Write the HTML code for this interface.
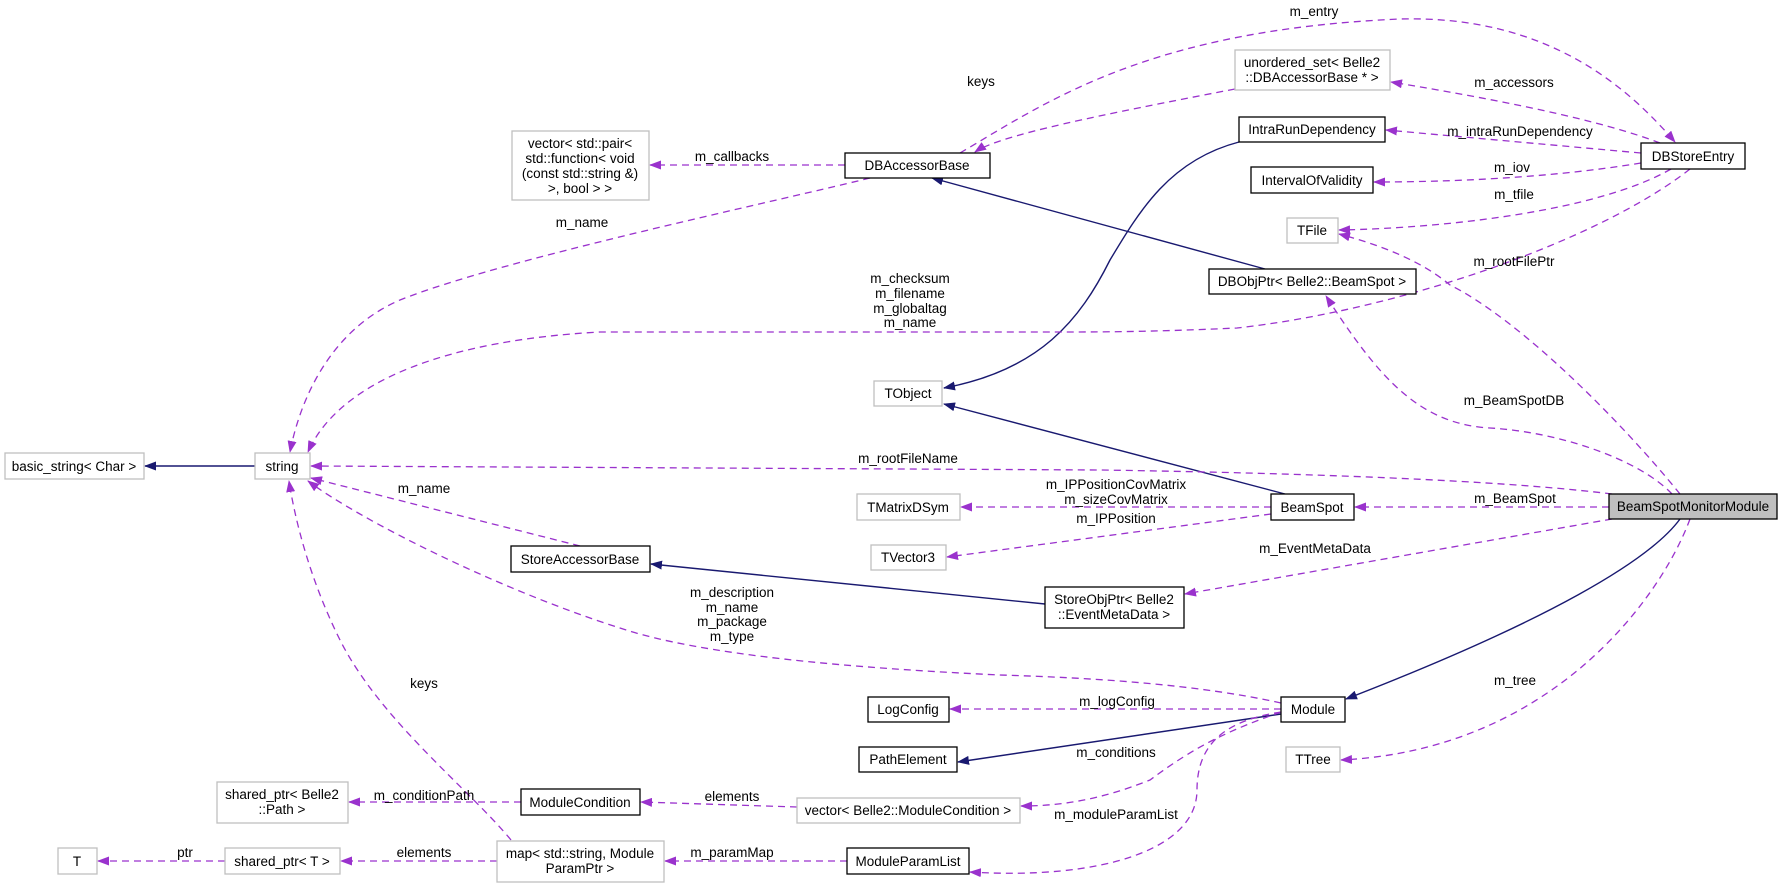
<!DOCTYPE html>
<html><head><meta charset="utf-8"><style>
html,body{margin:0;padding:0;background:#fff;}
svg text{font-family:"Liberation Sans",sans-serif;font-size:13.5px;fill:#000;}
</style></head><body>
<svg width="1783" height="887" viewBox="0 0 1783 887" xmlns="http://www.w3.org/2000/svg">
<defs>
<marker id="p" markerWidth="12" markerHeight="9" refX="11" refY="4.5" orient="auto" markerUnits="userSpaceOnUse"><path d="M0,0 L12,4.5 L0,9 z" fill="#9a32cd"/></marker>
<marker id="n" markerWidth="12" markerHeight="9" refX="11" refY="4.5" orient="auto" markerUnits="userSpaceOnUse"><path d="M0,0 L12,4.5 L0,9 z" fill="#191970"/></marker>
</defs>
<g fill="none" stroke="#191970" stroke-width="1.4" marker-end="url(#n)">
<path d="M255,466 L145,466"/>
<path d="M1265,269 L932,178"/>
<path d="M1239,142 C1170,160 1140,210 1110,260 C1080,320 1040,370 944,388"/>
<path d="M1285,494 L944,404"/>
<path d="M1045,604 L651,564"/>
<path d="M1281,714 L958,762"/>
<path d="M1680,519 C1650,560 1550,620 1346,699"/>
</g>
<g fill="none" stroke="#9a32cd" stroke-width="1.3" stroke-dasharray="7,5" marker-end="url(#p)">
<path d="M845,165 L650,165"/>
<path d="M870,178 C760,205 500,260 400,300 C330,330 300,400 290,452"/>
<path d="M1690,169 C1600,240 1400,310 1237,328 C1150,332 1100,332 1050,332 L600,332 C450,340 340,380 308,452"/>
<path d="M1612,494 C1500,480 1300,473 1100,470 L311,466"/>
<path d="M960,153 C1050,100 1150,30 1400,19 C1550,15 1630,90 1675,142"/>
<path d="M1660,143 C1600,120 1500,100 1391,82"/>
<path d="M1235,89 C1100,115 1000,135 975,152"/>
<path d="M1641,153 L1386,130"/>
<path d="M1641,163 C1550,178 1450,182 1374,182"/>
<path d="M1671,169 C1600,210 1450,228 1339,230"/>
<path d="M1680,494 C1620,420 1520,320 1450,285 C1420,260 1380,245 1339,234"/>
<path d="M1672,494 C1640,460 1560,432 1490,428 C1420,424 1380,380 1326,296"/>
<path d="M1609,507 L1355,507"/>
<path d="M1271,507 L961,507"/>
<path d="M1271,514 L947,557"/>
<path d="M1612,519 L1185,594"/>
<path d="M580,546 L311,478"/>
<path d="M1281,703 C1200,685 1100,678 1000,675 C850,668 700,655 620,628 C500,590 360,520 308,481"/>
<path d="M1281,709 L950,709"/>
<path d="M511,840 C470,790 380,720 340,640 C310,580 295,520 289,481"/>
<path d="M1281,712 C1230,730 1197,745 1150,780 C1100,800 1060,806 1021,806"/>
<path d="M1281,712 C1230,720 1197,740 1197,790 C1197,850 1100,880 970,872"/>
<path d="M1690,519 C1660,600 1550,750 1341,760"/>
<path d="M797,807 L641,802"/>
<path d="M521,802 L349,802"/>
<path d="M847,861 L665,861"/>
<path d="M497,861 L341,861"/>
<path d="M225,861 L98,861"/>
</g>
<g stroke-width="1.3">
<g fill="#fff" stroke="#bfbfbf">
<rect x="5" y="453" width="139" height="26"/>
<rect x="255" y="453" width="55" height="26"/>
<rect x="512" y="131" width="137" height="69"/>
<rect x="1235" y="50" width="155" height="40"/>
<rect x="1287" y="218" width="51" height="25"/>
<rect x="874" y="381" width="68" height="25"/>
<rect x="857" y="494" width="103" height="26"/>
<rect x="871" y="545" width="75" height="25"/>
<rect x="1286" y="747" width="54" height="25"/>
<rect x="217" y="782" width="131" height="41"/>
<rect x="797" y="798" width="223" height="25"/>
<rect x="58" y="848" width="39" height="26"/>
<rect x="225" y="848" width="115" height="26"/>
<rect x="497" y="841" width="167" height="41"/>
</g>
<g fill="#fff" stroke="#000">
<rect x="845" y="153" width="145" height="25"/>
<rect x="1239" y="117" width="146" height="25"/>
<rect x="1251" y="167" width="122" height="26"/>
<rect x="1209" y="269" width="207" height="25"/>
<rect x="1641" y="143" width="104" height="26"/>
<rect x="511" y="546" width="139" height="26"/>
<rect x="1045" y="587" width="139" height="41"/>
<rect x="1271" y="494" width="83" height="26"/>
<rect x="868" y="697" width="81" height="25"/>
<rect x="1281" y="697" width="64" height="25"/>
<rect x="859" y="747" width="98" height="25"/>
<rect x="521" y="789" width="119" height="26"/>
<rect x="847" y="848" width="122" height="26"/>
<rect x="1609" y="494" width="168" height="25" fill="#bfbfbf"/>
</g>
</g>
<g text-anchor="middle">
<text x="74" y="471">basic_string&lt; Char &gt;</text>
<text x="282" y="471">string</text>
<text x="580" y="148">vector&lt; std::pair&lt;</text>
<text x="580" y="163">std::function&lt; void</text>
<text x="580" y="178">(const std::string &amp;)</text>
<text x="580" y="193">&gt;, bool &gt; &gt;</text>
<text x="1312" y="67">unordered_set&lt; Belle2</text>
<text x="1312" y="82">::DBAccessorBase * &gt;</text>
<text x="1312" y="235">TFile</text>
<text x="908" y="398">TObject</text>
<text x="908" y="512">TMatrixDSym</text>
<text x="908" y="562">TVector3</text>
<text x="1313" y="764">TTree</text>
<text x="282" y="799">shared_ptr&lt; Belle2</text>
<text x="282" y="814">::Path &gt;</text>
<text x="908" y="815">vector&lt; Belle2::ModuleCondition &gt;</text>
<text x="77" y="866">T</text>
<text x="282" y="866">shared_ptr&lt; T &gt;</text>
<text x="580" y="858">map&lt; std::string, Module</text>
<text x="580" y="873">ParamPtr &gt;</text>
<text x="917" y="170">DBAccessorBase</text>
<text x="1312" y="134">IntraRunDependency</text>
<text x="1312" y="185">IntervalOfValidity</text>
<text x="1312" y="286">DBObjPtr&lt; Belle2::BeamSpot &gt;</text>
<text x="1693" y="161">DBStoreEntry</text>
<text x="580" y="564">StoreAccessorBase</text>
<text x="1114" y="604">StoreObjPtr&lt; Belle2</text>
<text x="1114" y="619">::EventMetaData &gt;</text>
<text x="1312" y="512">BeamSpot</text>
<text x="908" y="714">LogConfig</text>
<text x="1313" y="714">Module</text>
<text x="908" y="764">PathElement</text>
<text x="580" y="807">ModuleCondition</text>
<text x="908" y="866">ModuleParamList</text>
<text x="1693" y="511">BeamSpotMonitorModule</text>
<text x="732" y="161">m_callbacks</text>
<text x="582" y="227">m_name</text>
<text x="910" y="283">m_checksum</text>
<text x="910" y="298">m_filename</text>
<text x="910" y="313">m_globaltag</text>
<text x="910" y="327">m_name</text>
<text x="908" y="463">m_rootFileName</text>
<text x="1314" y="16">m_entry</text>
<text x="1514" y="87">m_accessors</text>
<text x="981" y="86">keys</text>
<text x="1520" y="136">m_intraRunDependency</text>
<text x="1512" y="172">m_iov</text>
<text x="1514" y="199">m_tfile</text>
<text x="1514" y="266">m_rootFilePtr</text>
<text x="1514" y="405">m_BeamSpotDB</text>
<text x="1515" y="503">m_BeamSpot</text>
<text x="1116" y="489">m_IPPositionCovMatrix</text>
<text x="1116" y="504">m_sizeCovMatrix</text>
<text x="1116" y="523">m_IPPosition</text>
<text x="1315" y="553">m_EventMetaData</text>
<text x="424" y="493">m_name</text>
<text x="732" y="597">m_description</text>
<text x="732" y="612">m_name</text>
<text x="732" y="626">m_package</text>
<text x="732" y="641">m_type</text>
<text x="1117" y="706">m_logConfig</text>
<text x="424" y="688">keys</text>
<text x="1116" y="757">m_conditions</text>
<text x="1116" y="819">m_moduleParamList</text>
<text x="1515" y="685">m_tree</text>
<text x="732" y="801">elements</text>
<text x="424" y="800">m_conditionPath</text>
<text x="732" y="857">m_paramMap</text>
<text x="424" y="857">elements</text>
<text x="185" y="857">ptr</text>
</g>
</svg>
</body></html>
